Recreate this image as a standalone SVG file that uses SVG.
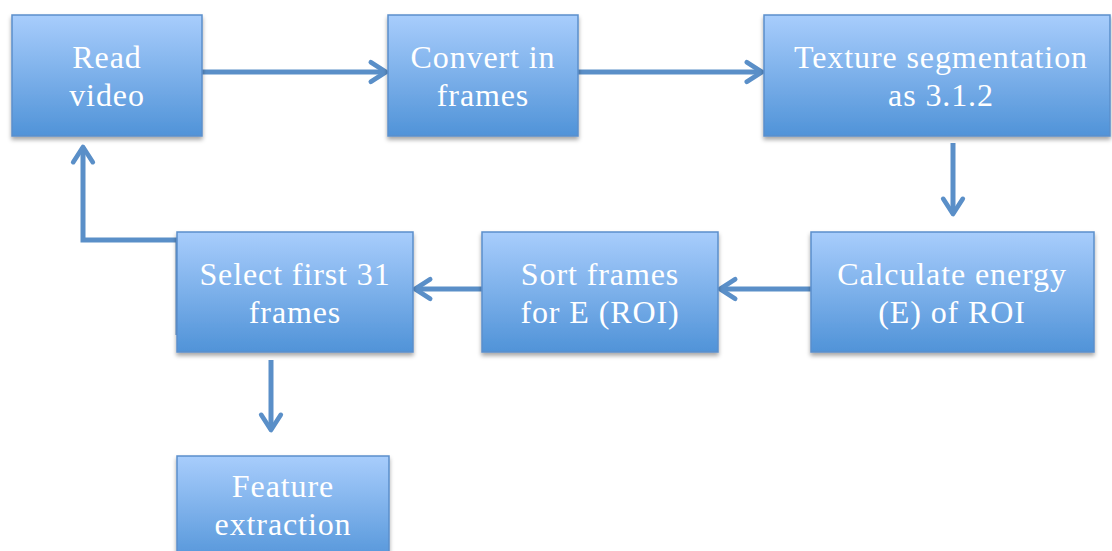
<svg xmlns="http://www.w3.org/2000/svg" width="1112" height="551" viewBox="0 0 1112 551">
<defs>
<linearGradient id="g" x1="0" y1="0" x2="0" y2="1">
<stop offset="0" stop-color="#A8CDFC"/>
<stop offset="1" stop-color="#5093D8"/>
</linearGradient>
<filter id="sh" x="-10%" y="-10%" width="120%" height="130%">
<feDropShadow dx="0" dy="3" stdDeviation="2" flood-color="#000" flood-opacity="0.35"/>
</filter>
<marker id="ah" viewBox="0 0 12 12" refX="9.5" refY="6" markerWidth="5.6" markerHeight="5.6" orient="auto" markerUnits="strokeWidth">
<path d="M3,1.8 L9.5,6 L3,10.2" fill="none" stroke="#5A8FC8" stroke-width="2" stroke-linecap="round" stroke-linejoin="round"/>
</marker>
</defs>
<style>
.box{fill:url(#g);stroke:#5B8FCB;stroke-width:1.5;filter:url(#sh)}
.t{font-family:"Liberation Serif","DejaVu Serif",serif;font-size:32px;letter-spacing:0.9px;fill:#fff;text-anchor:middle}
.c{fill:none;stroke:#5A8FC8;stroke-width:5;marker-end:url(#ah)}
</style>
<rect width="1112" height="551" fill="#fff"/>
<g id="connectors">
<path class="c" d="M202,72 L386,72"/>
<path class="c" d="M578,72 L762,72"/>
<path class="c" d="M953,143 L953,214"/>
<path class="c" d="M811,289 L720,289"/>
<path class="c" d="M482,289 L415,289"/>
<path class="c" d="M178,335 L178,240 L83,240 L83,147"/>
<path class="c" d="M271,360 L271,430"/>
</g>
<g id="read-video">
<rect class="box" x="12" y="15" width="190" height="121"/>
<text class="t" x="107" y="68">Read</text>
<text class="t" x="107" y="106">video</text>
</g>
<g id="convert-frames">
<rect class="box" x="388" y="15" width="190" height="121"/>
<text class="t" x="483" y="68">Convert in</text>
<text class="t" x="483" y="106">frames</text>
</g>
<g id="texture-segmentation">
<rect class="box" x="764" y="15" width="346" height="121"/>
<text class="t" x="941" y="68">Texture segmentation</text>
<text class="t" x="941" y="106">as 3.1.2</text>
</g>
<g id="calculate-energy">
<rect class="box" x="811" y="232" width="283" height="120"/>
<text class="t" x="952" y="285">Calculate energy</text>
<text class="t" x="952" y="323">(E) of ROI</text>
</g>
<g id="sort-frames">
<rect class="box" x="482" y="232" width="236" height="120"/>
<text class="t" x="600" y="285">Sort frames</text>
<text class="t" x="600" y="323">for E (ROI)</text>
</g>
<g id="select-frames">
<rect class="box" x="177" y="232" width="236" height="120"/>
<text class="t" x="295" y="285">Select first 31</text>
<text class="t" x="295" y="323">frames</text>
</g>
<g id="feature-extraction">
<rect class="box" x="177" y="456" width="212" height="110"/>
<text class="t" x="283" y="497">Feature</text>
<text class="t" x="283" y="535">extraction</text>
</g>
</svg>
